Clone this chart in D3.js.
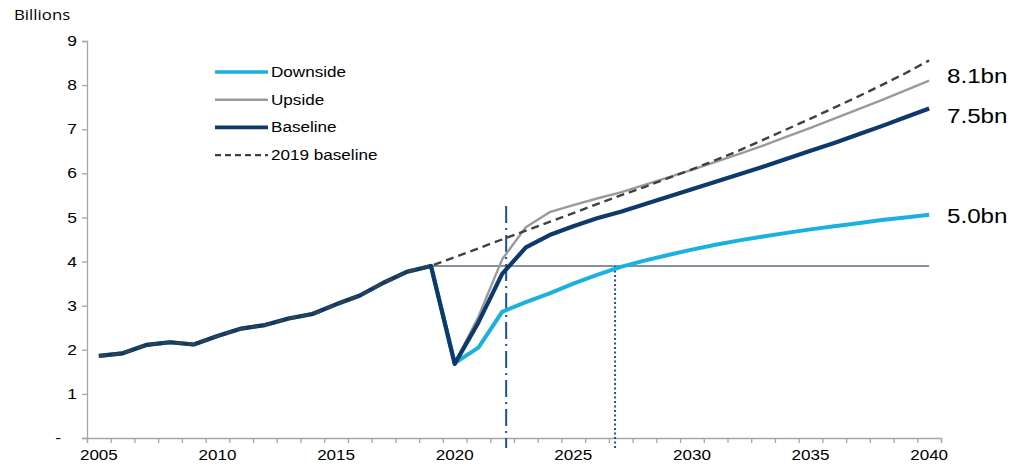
<!DOCTYPE html>
<html>
<head>
<meta charset="utf-8">
<script src="https://cdn.jsdelivr.net/npm/d3@7"></script>
<style>
  html, body { margin: 0; padding: 0; background: #fff; }
  svg { display: block; }
  text { font-family: "Liberation Sans", Arial, sans-serif; fill: #000; }
</style>
</head>
<body>
<svg id="chart" width="1017" height="468"></svg>
<script>
// ---------- data ----------
const historyYears = [2005,2006,2007,2008,2009,2010,2011,2012,2013,2014,2015,2016,2017,2018,2019];
const historyValues = [1.86,1.92,2.11,2.17,2.12,2.31,2.48,2.56,2.71,2.81,3.03,3.23,3.52,3.77,3.9];

const projYears = [2020,2021,2022,2023,2024,2025,2026,2027,2028,2029,2030,2031,2032,2033,2034,2035,2036,2037,2038,2039,2040];
const downside  = [1.7,2.05,2.86,3.08,3.28,3.5,3.7,3.88,4.02,4.15,4.27,4.38,4.48,4.57,4.65,4.73,4.8,4.87,4.94,5.0,5.06];
const upside    = [1.7,2.75,4.05,4.78,5.12,5.28,5.43,5.57,5.74,5.91,6.08,6.26,6.44,6.63,6.83,7.03,7.24,7.45,7.66,7.88,8.1];
const baseline  = [1.68,2.62,3.72,4.32,4.6,4.8,4.98,5.13,5.3,5.47,5.64,5.81,5.98,6.15,6.33,6.51,6.69,6.88,7.07,7.27,7.47];
const baseline2019 = [4.1,4.3,4.5,4.7,4.9,5.1,5.3,5.5,5.69,5.89,6.09,6.3,6.52,6.76,7.0,7.24,7.49,7.74,8.0,8.27,8.56];

const preCovidLevel = 3.9;          // horizontal reference line (2019 level)
const markerDashDot = 2022.17;      // vertical dash-dot marker
const markerDotted = 2026.76;       // vertical dotted marker (downside regains 2019 level)

const yTicks = [0,1,2,3,4,5,6,7,8,9];
const xLabelYears = [2005,2010,2015,2020,2025,2030,2035,2040];
const endLabels = ["8.1bn", "7.5bn", "5.0bn"];
const endLabelValues = [8.1, 7.5, 5.0];
const legendItems = ["Downside","Upside","Baseline","2019 baseline"];

// ---------- layout ----------
const svg = d3.select("#chart");
const mLeft = 87, mRight = 941, mTop = 41, mBottom = 438;
const STRETCH = 1.2;   // text in the reference is slightly wide

const x = d3.scaleLinear().domain([2004.5, 2040.5]).range([mLeft, mRight]);
const y = d3.scaleLinear().domain([0, 9]).range([mBottom, mTop]);

const styles = {
  "Downside":      {color: "#1ab0e0", width: 4,   dash: null},
  "Upside":        {color: "#9a9a9a", width: 2.4, dash: null},
  "Baseline":      {color: "#0d3a6b", width: 4.2, dash: null},
  "2019 baseline": {color: "#404040", width: 2.4, dash: "8,5"}
};
const endLabelOffsets = [-5, 9, -2];   // pixel nudges, as in the reference

function stretch(sel, s) {
  sel.each(function() {
    const t = d3.select(this);
    const tx = +t.attr("x") || 0, ty = +t.attr("y") || 0;
    t.attr("x", 0).attr("y", 0)
     .attr("transform", `translate(${tx},${ty}) scale(${s},1)`);
  });
}

function series(proj) {
  const hy = historyYears.map((yr, i) => ({yr, v: historyValues[i]}));
  return hy.concat(projYears.map((yr, i) => ({yr, v: proj[i]})));
}
const allSeries = [
  {name: "Downside", data: series(downside)},
  {name: "Upside", data: series(upside)},
  {name: "Baseline", data: series(baseline)},
  {name: "2019 baseline", data: series(baseline2019)}
];

// ---------- axes ----------
const yAxis = d3.axisLeft(y).tickValues(yTicks).tickSize(5).tickPadding(5)
  .tickFormat(d => d === 0 ? "-" : String(d));
const gy = svg.append("g").attr("transform", `translate(${mLeft},0)`).call(yAxis);
gy.selectAll("path.domain").attr("stroke", "#a6a6a6").attr("stroke-width", 1.3);
gy.selectAll(".tick line").attr("stroke", "#a6a6a6").attr("stroke-width", 1.3);
gy.selectAll(".tick text").style("font-size", "14.5px").attr("fill", "#000")
  .style("font-family", "'Liberation Sans', Arial, sans-serif")
  .attr("x", d => d === 0 ? -26 : -10);
stretch(gy.selectAll(".tick text"), STRETCH);

const boundaryTicks = d3.range(2004.5, 2041, 1);
const xAxis = d3.axisBottom(x).tickValues(boundaryTicks).tickSize(5).tickFormat("");
const gx = svg.append("g").attr("transform", `translate(0,${mBottom})`).call(xAxis);
gx.selectAll("path.domain").attr("stroke", "#a6a6a6").attr("stroke-width", 1.3);
gx.selectAll(".tick line").attr("stroke", "#a6a6a6").attr("stroke-width", 1.3);

const xl = svg.append("g").selectAll("text").data(xLabelYears).join("text")
  .attr("x", d => x(d)).attr("y", 460)
  .attr("text-anchor", "middle")
  .style("font-size", "15.5px")
  .text(d => d);
stretch(xl, 1.1);

const bt = svg.append("text").attr("x", 14).attr("y", 20)
  .style("font-family", "'Open Sans', 'Noto Sans', sans-serif")
  .style("font-size", "14px").text("Billions");
stretch(bt, 1.2);

// ---------- reference lines ----------
svg.append("line")
  .attr("x1", x(2019)).attr("x2", x(2040))
  .attr("y1", y(preCovidLevel)).attr("y2", y(preCovidLevel))
  .attr("stroke", "#5f6b7c").attr("stroke-width", 1.6);

svg.append("line")
  .attr("x1", x(markerDashDot)).attr("x2", x(markerDashDot))
  .attr("y1", 206).attr("y2", 448)
  .attr("stroke", "#1f4f9a").attr("stroke-width", 2)
  .attr("stroke-dasharray", "17,5,2,5");

svg.append("line")
  .attr("x1", x(markerDotted)).attr("x2", x(markerDotted))
  .attr("y1", y(preCovidLevel)).attr("y2", 448)
  .attr("stroke", "#1f4f9a").attr("stroke-width", 2)
  .attr("stroke-dasharray", "2,2.5");

// ---------- lines ----------
const line = d3.line().x(d => x(d.yr)).y(d => y(d.v));
svg.append("g").selectAll("path").data(allSeries).join("path")
  .attr("d", d => line(d.data))
  .attr("fill", "none")
  .attr("stroke", d => styles[d.name].color)
  .attr("stroke-width", d => styles[d.name].width)
  .attr("stroke-dasharray", d => styles[d.name].dash)
  .attr("stroke-linejoin", "round");

// ---------- end labels ----------
const el = svg.append("g").selectAll("text").data(endLabels).join("text")
  .attr("x", 947).attr("y", (d, i) => y(endLabelValues[i]) + endLabelOffsets[i])
  .attr("dy", "0.35em")
  .style("font-size", "20.5px")
  .text(d => d);
stretch(el, 1.18);

// ---------- legend ----------
const lg = svg.append("g");
legendItems.forEach((name, i) => {
  const yy = 72 + i * 27.7;
  const s = styles[name];
  lg.append("line").attr("x1", 215).attr("x2", 268).attr("y1", yy).attr("y2", yy)
    .attr("stroke", s.color).attr("stroke-width", s.width >= 4 ? 3.6 : 2.4)
    .attr("stroke-dasharray", s.dash ? "6,4" : null);
  const t = lg.append("text").attr("x", 271).attr("y", yy).attr("dy", "0.35em")
    .style("font-size", "14.5px").text(name);
  stretch(t, 1.18);
});
</script>
</body>
</html>
